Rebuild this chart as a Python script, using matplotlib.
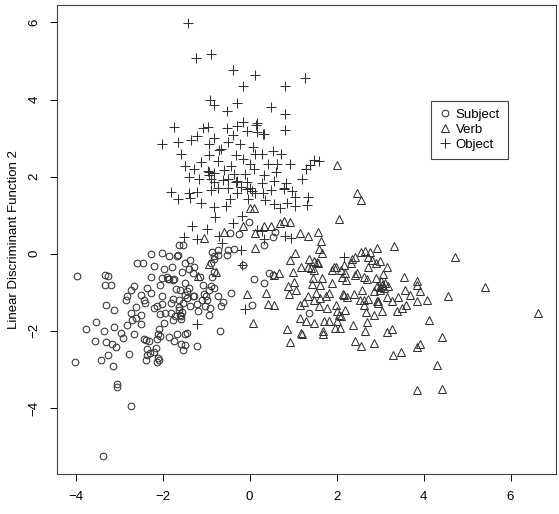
import numpy as np
import matplotlib.pyplot as plt

plt.rcParams['font.family'] = ['Liberation Sans', 'DejaVu Sans']

# values (LD1, LD2)
subject_x = [-3.97, -4.01, -3.37, -2.72, -3.06, -3.06, -3.14, -3.41, -3.25, -3.55,
             -3.31, -3.16, -3.08, -3.77, -3.54, -3.36, -3.12, -2.96, -2.92, -2.77,
             -2.66, -3.32, -3.26, -3.33, -3.19, -3.30, -3.12, -2.81, -2.71, -2.74,
             -2.61, -2.51, -2.49, -2.84, -2.82, -2.74, -2.67, -2.61, -2.49, -2.43,
             -2.40, -2.59, -2.45, -2.37, -2.27, -2.38, -2.32, -2.44, -2.37, -2.36,
             -2.30, -2.38, -2.16, -2.19, -2.11, -2.09, -2.13, -2.14, -2.07, -2.11,
             -2.08, -1.97, -2.28, -2.01, -2.19, -1.97, -2.28, -2.01, -1.90, -2.07,
             -2.01, -2.14, -2.01, -2.07, -1.95, -2.20, -1.85, -1.78, -1.66, -1.62,
             -1.54, -1.64, -1.88, -1.73, -1.77, -1.85, -1.70, -1.76, -1.81, -1.81,
             -1.72, -1.76, -1.62, -1.60, -1.58, -1.63, -1.55, -1.57, -1.53, -1.85,
             -1.73, -1.68, -1.58, -1.53, -1.48, -1.43, -1.49, -1.20, -1.56, -1.48,
             -1.37, -1.40, -1.27, -1.31, -1.48, -1.40, -1.43, -1.31, -1.27, -1.48,
             -1.20, -1.19, -1.37, -1.15, -1.08, -1.04, -1.00, -1.10, -1.02, -0.94,
             -0.92, -0.97, -0.94, -0.88, -0.83, -0.87, -0.82, -0.87, -0.82, -0.83,
             -0.72, -0.88, -0.72, -0.67, -0.61, -0.68, -0.42, -0.72, -0.49, -0.36,
             -0.51, -0.45, -0.24, -0.02, 0.09, 0.05, 0.34, 0.33, 0.45, 0.53,
             0.59, 0.54, 1.37, -0.15, -1.62, -1.45, -1.60]
subject_y = [-0.57, -2.80, -5.25, -3.94, -3.39, -3.46, -2.91, -2.76, -2.63, -2.27,
             -2.29, -2.34, -2.43, -1.94, -1.77, -2.01, -1.90, -2.05, -2.18, -2.60,
             -2.09, -0.55, -0.57, -0.81, -0.82, -1.34, -1.47, -1.86, -1.71, -1.53,
             -1.67, -1.82, -1.60, -1.19, -1.09, -0.93, -0.84, -1.37, -1.06, -1.21,
             -1.27, -0.24, -0.24, -0.90, -1.03, -2.24, -2.27, -2.20, -2.48, -2.62,
             -2.57, -2.76, -2.44, -2.55, -2.70, -2.76, -2.81, -2.22, -2.14, -2.08,
             -1.96, -1.79, 0.00, 0.02, -0.31, -0.40, -0.61, -0.63, -0.61, -0.80,
             -1.09, -1.36, -1.29, -1.55, -1.53, -1.40, -0.05, -0.33, -0.07, 0.22,
             0.23, -0.03, -0.65, -0.66, -0.67, -0.66, -0.91, -1.16, -1.27, -1.53,
             -1.62, -1.72, -1.45, -1.58, -1.70, -1.38, -1.50, -1.62, -1.28, -2.16,
             -2.27, -2.09, -2.33, -2.50, -2.37, -2.05, -2.08, -2.38, -0.48, -0.24,
             -0.16, -0.40, -0.33, -0.50, -0.76, -0.89, -0.97, -1.09, -1.09, -1.06,
             -1.30, -1.49, -1.36, -0.61, -0.80, -1.05, -1.09, -1.19, -1.36, -1.58,
             -1.40, -1.19, -0.93, -0.83, -0.89, -0.61, -0.48, 0.04, -0.07, -0.14,
             -0.04, -0.24, -1.09, -1.36, -1.26, -1.99, -1.03, 0.10, 0.10, 0.12,
             -0.03, 0.53, 0.52, 0.83, -0.65, -1.32, 0.22, -0.76, -0.50, -0.56,
             0.56, 0.43, -1.53, -0.30, -1.20, -1.15, -0.95]

verb_x = [2.00, 2.46, 2.56, 2.05, 0.01, 0.09, -0.16, 0.12, -0.59, -1.05,
          -0.94, -0.78, -1.19, 0.12, 0.34, 0.48, 0.69, 0.79, 0.92, 1.15,
          1.34, 1.57, 1.63, 1.60, 1.66, 1.05, 0.92, 1.18, 1.37, 1.47,
          1.57, 1.34, 1.49, 1.45, 1.66, 1.61, 1.43, 1.00, 0.89, 1.02,
          1.07, 0.90, 0.67, 0.55, 0.38, -0.07, 0.42, 0.56, 0.07, 0.86,
          0.93, 1.19, 1.20, 1.15, 1.15, 1.30, 1.26, 1.34, 1.47, 1.49,
          1.53, 1.59, 1.62, 1.68, 1.68, 1.70, 1.75, 1.79, 1.83, 1.82,
          1.89, 1.93, 1.99, 1.90, 1.99, 2.01, 2.00, 1.96, 2.07, 2.05,
          2.11, 2.15, 2.18, 2.19, 2.25, 2.09, 2.16, 2.20, 2.13, 2.21,
          2.36, 2.43, 2.32, 2.46, 2.43, 2.55, 2.65, 2.77, 2.92, 3.32,
          2.73, 2.81, 2.90, 2.99, 2.73, 3.16, 2.62, 2.71, 2.90, 3.02,
          3.06, 3.12, 3.18, 2.94, 2.99, 2.87, 2.59, 2.39, 2.54, 2.64,
          2.73, 2.67, 2.63, 2.85, 2.94, 2.96, 3.05, 3.16, 3.27, 3.38,
          3.41, 3.56, 3.57, 3.68, 3.60, 3.51, 3.84, 3.84, 3.92, 3.84,
          4.07, 4.13, 4.57, 4.73, 5.41, 6.62, 4.42, 4.31, 4.43, 3.86,
          3.92, 3.84, 3.49, 3.29, 3.28, 3.16, 2.87, 2.66, 2.71, 2.56,
          2.43, 2.38, 3.00, 3.05, 3.10, 2.95, 1.55, 1.42]
verb_y = [2.30, 1.57, 1.40, 0.90, 1.18, 1.18, 0.71, 0.53, 0.56, 0.40,
          -0.26, -0.46, -0.57, 0.15, 0.71, 0.73, 0.79, 0.84, 0.82, 0.53,
          0.47, 0.56, 0.32, 0.12, 0.02, 0.02, -0.16, -0.33, -0.14, -0.20,
          -0.24, -0.33, -0.41, -0.63, -0.63, -0.80, -0.78, -0.48, -0.84, -0.74,
          -0.93, -1.04, -0.50, -0.54, -1.03, -1.04, -1.29, -1.34, -1.79, -1.96,
          -2.28, -2.05, -2.08, -1.32, -1.66, -1.75, -1.26, -1.10, -1.80, -1.19,
          -1.02, -1.36, -1.15, -1.99, -2.09, -1.75, -1.10, -1.40, -1.75, -1.02,
          -0.41, -0.33, -0.33, -0.76, -1.34, -1.49, -1.75, -1.92, -1.92, -1.58,
          -1.62, -1.04, -1.08, -1.45, -1.12, -0.41, -0.28, -0.50, -0.59, -0.67,
          -0.14, -0.09, -0.24, -0.50, -0.56, 0.04, 0.08, 0.04, 0.15, 0.21,
          -0.09, -0.16, -0.24, -0.18, -0.33, -0.33, -0.59, -0.65, -0.63, -0.71,
          -0.52, -0.76, -0.84, -0.84, -0.93, -0.97, -0.93, -1.04, -1.19, -1.21,
          -1.17, -1.51, -1.32, -1.58, -1.23, -1.27, -1.49, -1.13, -1.23, -1.49,
          -1.13, -0.59, -0.95, -1.06, -1.34, -1.40, -0.71, -0.80, -0.97, -1.23,
          -1.21, -1.71, -1.10, -0.09, -0.86, -1.53, -2.15, -2.89, -3.50, -3.54,
          -2.33, -2.42, -2.54, -2.63, -1.96, -2.03, -2.31, -2.01, -1.77, -2.39,
          -2.27, -1.85, -0.85, -0.80, -0.90, -1.22, -0.22, -0.38]

object_x = [-1.42, -0.88, -1.24, -0.39, 0.12, 1.27, -0.16, 0.81, -0.91, -0.82,
            -0.28, -0.51, 0.48, 0.82, -1.75, -1.08, -0.95, -0.52, -0.30, -0.16,
            0.16, 0.81, 0.34, -2.01, -1.65, -1.35, -1.20, -0.83, -0.38, -0.07,
            0.17, -0.93, -0.70, -0.49, -0.23, 0.07, -1.57, -1.12, -0.93, -0.67,
            -0.31, -0.16, 0.12, 0.28, 0.53, 0.73, -1.49, -1.27, -0.73, -0.44,
            0.01, 0.42, 0.63, 0.93, -1.39, -1.17, -0.94, -0.82, -0.59, -0.35,
            -0.11, 0.10, 0.34, 0.61, 1.29, 1.48, 1.39, 1.59, -0.82, -0.61,
            -0.32, -0.07, 0.28, 0.56, 0.83, 1.20, -1.82, -1.65, -1.39, -1.20,
            -0.89, -0.73, -0.49, -0.29, -0.05, 0.12, 0.30, 0.50, 0.79, 0.98,
            1.34, -1.38, -1.12, -0.82, -0.54, -0.45, -0.04, 0.36, 0.57, 0.69,
            0.87, 1.04, 1.31, 1.05, -0.18, -0.80, -0.38, -1.32, -0.98, -1.50,
            -1.22, -0.71, 0.34, 0.81, 0.96, 0.16, 0.28, -0.63, -0.19, -0.18,
            2.18, -0.10, -1.22, 0.00, -0.20, 0.05, -0.50, -0.30, -0.93, -0.90,
            -0.95, 0.80, 0.15, 0.30]
object_y = [5.99, 5.19, 5.08, 4.76, 4.65, 4.57, 4.36, 4.36, 4.00, 3.85,
            3.90, 3.70, 3.82, 3.63, 3.29, 3.26, 3.29, 3.27, 3.32, 3.42,
            3.38, 3.21, 3.12, 2.84, 2.89, 2.96, 3.05, 3.01, 3.08, 3.18,
            3.16, 2.86, 2.70, 2.89, 2.85, 2.77, 2.60, 2.37, 2.56, 2.71,
            2.56, 2.45, 2.60, 2.60, 2.67, 2.60, 2.28, 2.21, 2.41, 2.28,
            2.34, 2.34, 2.32, 2.33, 2.00, 1.93, 2.13, 2.10, 2.17, 2.08,
            2.08, 2.21, 2.04, 2.13, 2.21, 2.43, 2.30, 2.41, 1.87, 1.91,
            1.87, 1.87, 1.84, 1.89, 1.83, 1.95, 1.60, 1.41, 1.57, 1.61,
            1.65, 1.71, 1.70, 1.58, 1.67, 1.57, 1.58, 1.65, 1.68, 1.64,
            1.48, 1.44, 1.31, 1.21, 1.25, 1.41, 1.41, 1.40, 1.29, 1.18,
            1.33, 1.24, 1.27, 1.48, 0.99, 0.96, 0.81, 0.72, 0.64, 0.44,
            0.39, 0.45, 0.39, 0.47, 0.40, 0.62, 0.59, 0.28, 0.10, -0.28,
            -0.09, -1.43, -1.81, 1.70, 1.72, 1.63, 1.93, 1.88, 2.05, 1.95,
            2.15, 1.70, 3.35, 3.10]

fig = plt.figure(figsize=(5.59, 5.14), dpi=100)
ax = fig.add_axes([0.102, 0.078, 0.893, 0.912])

mk = dict(linestyle='none', color='#333333', markerfacecolor='none', markeredgewidth=0.75)
ax.plot(subject_x, subject_y, marker='o', markersize=4.8, label='Subject', **mk)
ax.plot(verb_x, verb_y, marker='^', markersize=5.2, label='Verb', **mk)
ax.plot(object_x, object_y, marker='+', markersize=6.5, label='Object', **mk)

ax.set_xlim(-4.43, 7.05)
ax.set_ylim(-5.71, 6.45)
ax.set_xticks([-4, -2, 0, 2, 4, 6])
ax.set_yticks([-4, -2, 0, 2, 4, 6])
ax.set_yticklabels(['\u22124', '\u22122', '0', '2', '4', '6'], rotation=90, va='center')
ax.set_xticklabels(['\u22124', '\u22122', '0', '2', '4', '6'])
ax.tick_params(direction='out', length=5, width=0.7, labelsize=9.5, pad=7)
for s in ax.spines.values():
    s.set_linewidth(0.8)
    s.set_color('#444444')
ax.set_ylabel('Linear Discriminant Function 2', fontsize=9.5, labelpad=6)

leg = ax.legend(loc='upper left', bbox_to_anchor=(0.735, 0.81), fontsize=9.5,
                fancybox=False, framealpha=1, edgecolor='#444444',
                handletextpad=0.3, handlelength=1.0, borderpad=0.6, labelspacing=0.2)
leg.get_frame().set_linewidth(0.8)

fig.savefig('out.png', dpi=100)
